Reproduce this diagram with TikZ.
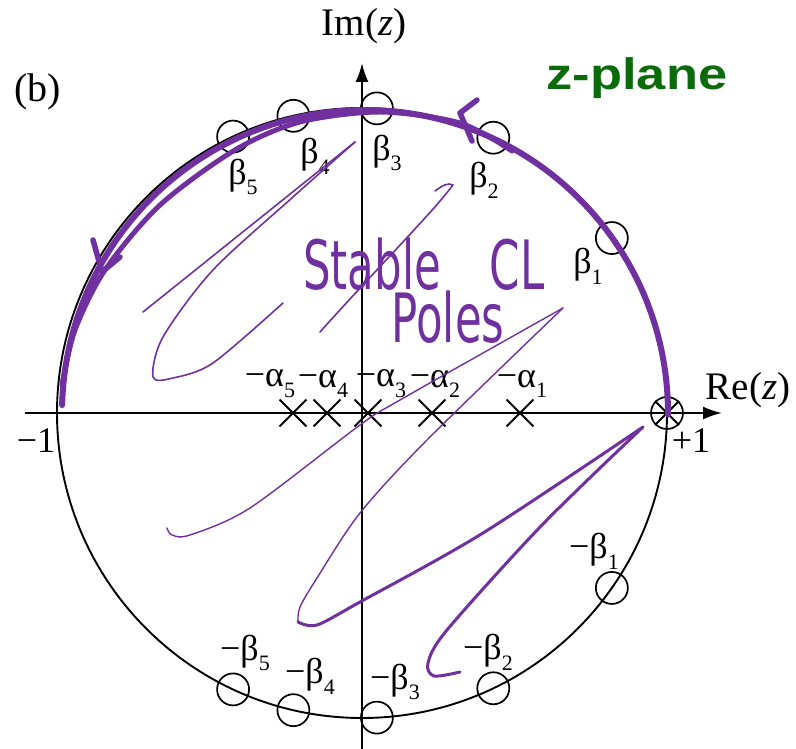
\documentclass[tikz,border=0pt]{standalone}
\usepackage{fontspec}
\setmainfont{Liberation Serif}
\newfontfamily\planefont{Liberation Sans}
\newfontfamily\handfont{DejaVu Sans}
\usetikzlibrary{arrows.meta,shapes.misc}
\definecolor{penpurple}{HTML}{7030A0}
\definecolor{planegreen}{HTML}{0B6B0B}
\newcommand{\lsub}[1]{\raisebox{-0.3em}{\fontsize{22}{22}\selectfont #1}}

\begin{document}
\begin{tikzpicture}[x=1pt, y=1pt,
    zero/.style={draw, circle, minimum size=32pt, inner sep=0pt, line width=1.7pt},
    pole/.style={draw, cross out, minimum size=25pt, inner sep=0pt, line width=1.9pt},
    lbl/.style={font=\fontsize{36}{38}\selectfont, inner sep=0pt},
    scribble/.style={penpurple, line width=1.6pt, line cap=round, line join=round},
    contour/.style={penpurple, line width=6pt, line cap=round, line join=round},
    hand/.style={penpurple, font=\handfont\fontsize{68}{68}\selectfont, inner sep=0pt,
        text depth=0pt, anchor=base}]
    \useasboundingbox (-362,-336) rectangle (434,413);

    % Unit circle
    \draw[line width=1.9pt] (0,0) circle[radius=305];

    % Axes
    \coordinate (xmin) at (-337,0);
    \coordinate (xmax) at (360,0);
    \coordinate (ymin) at (0,-336);
    \coordinate (ymax) at (0,350);
    \draw[line width=2pt, -{Latex[length=19pt, width=13pt]}] (xmin) -- (xmax);
    \draw[line width=2pt, -{Latex[length=19pt, width=13pt]}] (ymin) -- (ymax);
    \node[lbl, font=\fontsize{39}{41}\selectfont] (re) at (386,23) {Re(\textit{z})};
    \node[lbl, font=\fontsize{39}{41}\selectfont] (im) at (2,387) {Im(\textit{z})};
    \node[lbl] (mone) at (-326,-28) {−1};
    \node[lbl] (pone) at (329,-28) {+1};
    \node[lbl, font=\fontsize{40}{42}\selectfont] (tag) at (-324,321) {(b)};

    % Zeros on the circle
    \foreach \ang/\k in {35/1, 64.5/2, 87.2/3, 103/4, 115/5} {
        \node[zero] (b\k) at (\ang:305) {};
        \node[zero] (nb\k) at (-\ang:305) {};
    }
    \foreach \k/\x/\y in {1/226/147, 2/122/233, 3/25/260, 4/-47/257, 5/-119/236}
        \node[lbl] (lb\k) at (\x,\y) {β\lsub{\k}};
    \foreach \k/\x/\y in {1/232/-138, 2/126/-239, 3/33/-269, 4/-52/-263, 5/-117/-240}
        \node[lbl] (lnb\k) at (\x,\y) {−β\lsub{\k}};

    % Poles on the real axis
    \foreach \k/\x/\lx in {1/158/160, 2/70/73, 3/6/19, 4/-35/-39, 5/-69/-92} {
        \node[pole] (a\k) at (\x,0) {};
        \node[lbl] (la\k) at (\lx,29) {−α\lsub{\k}};
    }
    \node[zero] (z0) at (305,0) {};
    \node[pole, minimum size=22pt] (p0) at (305,0) {};

    % Contour
    \draw[contour] (-0.3:306) arc[start angle=-0.3, end angle=178.5, radius=303];
    \draw[contour, line width=5pt] plot[smooth] coordinates {(150,262) (98,290) (18,301)
        (-62,291) (-127,263) (-202,208) (-257,143) (-287,83) (-300,28)};
    \draw[contour, line width=5.5pt] (115,313) -- (98,300) -- (110,272);
    \draw[contour, line width=5.5pt] (-269,173) -- (-260,141) -- (-242,156);

    % Shading of the stable region
    \draw[scribble] (-219,101) -- (-7,271);
    \draw[scribble] plot[smooth] coordinates {(-7,271) (-69,216) (-149,143) (-199,76)
        (-209,36) (-189,35) (-149,50) (-79,110)};
    \draw[scribble] (-42,81) .. controls (20,150) and (70,200) .. (91,228)
        .. controls (86,231) and (80,227) .. (73,222);
    \draw[scribble, line width=1.4pt] plot[smooth] coordinates {(-195,-115) (-190,-122)
        (-172,-122) (-112,-95) (-2,-12) (38,13) (201,105)};
    \draw[scribble, line width=1.4pt] plot[smooth] coordinates {(201,105) (65,-27)
        (-2,-100) (-45,-165) (-62,-194) (-64,-209)};
    \draw[scribble, line width=3pt] plot[smooth] coordinates {(-64,-209) (-45,-212)
        (-2,-189) (121,-120) (281,-14)};
    \draw[scribble, line width=3pt] plot[smooth] coordinates {(281,-14) (180,-112)
        (85,-217) (66,-250) (72,-263) (98,-259)};

    % Handwritten note
    \node[hand] (stable) at (10,123) {\scalebox{0.64}[1]{Stable}};
    \node[hand] (cl) at (155,123) {\scalebox{0.64}[1]{CL}};
    \node[hand, text height=46pt] (poles) at (86,70) {\scalebox{0.64}[1]{Poles}};

    % Plane title
    \node[anchor=base, inner sep=0pt, planegreen, font=\planefont\bfseries\fontsize{44}{44}\selectfont]
        (plane) at (275,323) {\scalebox{1.19}[1]{z-plane}};
\end{tikzpicture}
\end{document}
